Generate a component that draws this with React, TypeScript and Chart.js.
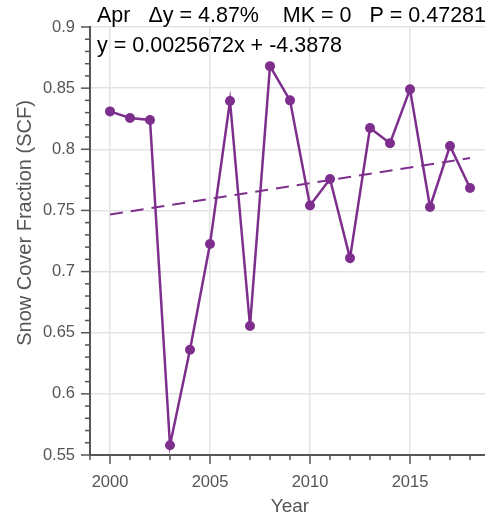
import React, { useEffect, useRef } from "react";
import { Chart, registerables } from "chart.js";

Chart.register(...registerables);

const years = [2000, 2001, 2002, 2003, 2004, 2005, 2006, 2007, 2008, 2009, 2010, 2011, 2012, 2013, 2014, 2015, 2016, 2017, 2018];
const scf = [0.831, 0.8256, 0.824, 0.558, 0.636, 0.7226, 0.8395, 0.6555, 0.868, 0.840, 0.754, 0.7757, 0.711, 0.8174, 0.805, 0.849, 0.7528, 0.8027, 0.7683];
const trendYears = [2000, 2018];
const trendValues = [0.7466, 0.7928];
const xMajorTicks = [2000, 2005, 2010, 2015];
const yMajorTicks = [0.55, 0.6, 0.65, 0.7, 0.75, 0.8, 0.85, 0.9];
const yTickLabels = ["0.55", "0.6", "0.65", "0.7", "0.75", "0.8", "0.85", "0.9"];
const titleText = "Apr   \u0394y = 4.87%    MK = 0   P = 0.47281";
const equationText = "y = 0.0025672x + -4.3878";
const xLabel = "Year";
const yLabel = "Snow Cover Fraction (SCF)";

const PURPLE = "#7E2F8E";
const AXIS = "#555555";
const LABEL = "#555555";
const FONT = "'Liberation Sans', Arial, Helvetica, sans-serif";

const decorPlugin = {
  id: "decor",
  afterDraw(chart: any) {
    const ctx = chart.ctx;
    const xs = chart.scales.x;
    const ys = chart.scales.y;
    const area = chart.chartArea;
    ctx.save();
    ctx.strokeStyle = AXIS;
    ctx.lineWidth = 1.5;
    // y ticks
    for (let i = 0; i <= 35; i++) {
      const v = 0.55 + i * 0.01;
      const py = ys.getPixelForValue(v);
      const major = i % 5 === 0;
      const len = major ? 9 : 5;
      ctx.beginPath();
      ctx.moveTo(area.left - len, py);
      ctx.lineTo(area.left, py);
      ctx.stroke();
    }
    // x ticks
    for (let yr = 1999; yr <= 2019; yr++) {
      const px = xs.getPixelForValue(yr);
      const major = yr % 5 === 0;
      const len = major ? 9 : 5;
      ctx.beginPath();
      ctx.moveTo(px, area.bottom);
      ctx.lineTo(px, area.bottom + len);
      ctx.stroke();
    }
    // title and equation
    ctx.fillStyle = "#000";
    ctx.font = `21.5px ${FONT}`;
    ctx.textBaseline = "alphabetic";
    ctx.textAlign = "left";
    ctx.fillText(titleText, 97, 22);
    ctx.fillText(equationText, 97, 52);
    // axis titles
    ctx.fillStyle = LABEL;
    ctx.font = `19px ${FONT}`;
    ctx.textAlign = "center";
    ctx.fillText(xLabel, (area.left + area.right) / 2, 512);
    ctx.translate(31, 223);
    ctx.rotate(-Math.PI / 2);
    ctx.font = `20px ${FONT}`;
    ctx.fillText(yLabel, 0, 0);
    ctx.restore();
  },
};

export default function App() {
  const ref = useRef<HTMLCanvasElement | null>(null);
  useEffect(() => {
    if (!ref.current) return;
    const chart = new Chart(ref.current, {
      type: "line",
      data: {
        datasets: [
          {
            data: years.map((x, i) => ({ x, y: scf[i] })),
            borderColor: PURPLE,
            backgroundColor: PURPLE,
            borderWidth: 2.5,
            pointRadius: 5,
            pointBorderWidth: 0,
            pointBackgroundColor: PURPLE,
            tension: 0,
          },
          {
            data: trendYears.map((x, i) => ({ x, y: trendValues[i] })),
            borderColor: PURPLE,
            borderWidth: 2,
            borderDash: [13, 8],
            pointRadius: 0,
            tension: 0,
          },
        ],
      },
      options: {
        animation: false,
        responsive: false,
        maintainAspectRatio: false,
        layout: { padding: { top: 27, right: 10, left: 0, bottom: 0 } },
        plugins: { legend: { display: false }, tooltip: { enabled: false }, title: { display: false } },
        scales: {
          x: {
            type: "linear",
            min: 1999,
            max: 2019,
            afterBuildTicks: (s: any) => {
              s.ticks = xMajorTicks.map((v) => ({ value: v }));
            },
            afterFit: (s: any) => {
              s.height = 61;
            },
            grid: { color: "#e3e3e3", lineWidth: 1.5, drawTicks: false },
            border: { display: true, color: AXIS, width: 2 },
            ticks: {
              padding: 18,
              color: LABEL,
              font: { family: FONT, size: 16.5 },
              autoSkip: false,
              maxRotation: 0,
              callback: (v: any) => String(v),
            },
          },
          y: {
            type: "linear",
            min: 0.55,
            max: 0.9,
            afterBuildTicks: (s: any) => {
              s.ticks = yMajorTicks.map((v) => ({ value: v }));
            },
            afterFit: (s: any) => {
              s.width = 90;
            },
            grid: { color: "#e3e3e3", lineWidth: 1.5, drawTicks: false },
            border: { display: true, color: AXIS, width: 2 },
            ticks: {
              padding: 15,
              color: LABEL,
              font: { family: FONT, size: 16.5 },
              autoSkip: false,
              callback: (v: any) => {
                const idx = yMajorTicks.findIndex((t) => Math.abs(t - v) < 1e-6);
                return idx >= 0 ? yTickLabels[idx] : "";
              },
            },
          },
        },
      },
      plugins: [decorPlugin],
    });
    return () => chart.destroy();
  }, []);
  return (
    <div style={{ position: "fixed", left: 0, top: 0, width: 485, height: 516, overflow: "hidden", background: "#fff" }}>
      <canvas ref={ref} width={500} height={516} style={{ width: 500, height: 516, display: "block" }} />
    </div>
  );
}
